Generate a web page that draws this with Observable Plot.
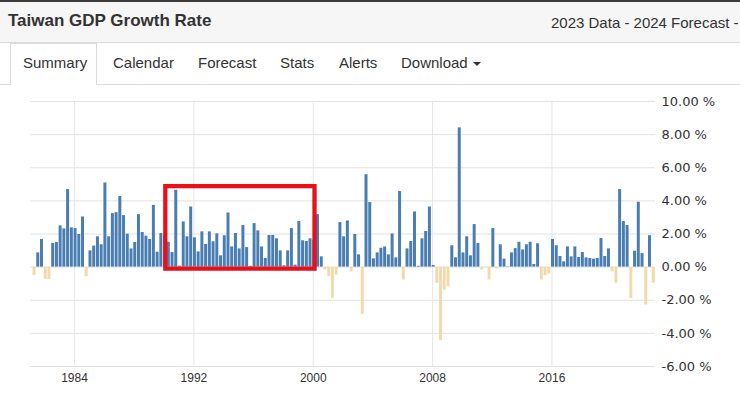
<!DOCTYPE html>
<html><head><meta charset="utf-8">
<script src="https://cdn.jsdelivr.net/npm/d3@7"></script>
<script src="https://cdn.jsdelivr.net/npm/@observablehq/plot@0.6"></script>
<style>
html,body{margin:0;padding:0}
body{width:740px;height:393px;overflow:hidden;background:#fff;font-family:"Liberation Sans",Arial,sans-serif;position:relative;color:#333}
#topline{position:absolute;left:0;top:0;width:740px;height:2px;background:#3a3a3a}
#header{position:absolute;left:0;top:2px;width:740px;height:40px;background:#f6f6f6;border-bottom:1px solid #dadada}
#title{position:absolute;left:8px;top:9px;font-weight:bold;font-size:17px;color:#333;white-space:nowrap}
#sub{position:absolute;left:551px;top:12px;font-size:15px;color:#333;white-space:nowrap}
#tabline{position:absolute;left:0;top:84px;width:740px;height:1px;background:#dcdcdc}
#active{position:absolute;left:10px;top:43px;width:87px;height:42px;border:1px solid #dcdcdc;border-bottom:none;background:#fff;box-sizing:border-box}
.tab{position:absolute;top:54px;font-size:15px;color:#333;white-space:nowrap}
.caret{display:inline-block;width:0;height:0;border-left:4px solid transparent;border-right:4px solid transparent;border-top:4px solid #333;vertical-align:middle;margin-left:5px}
#chart{position:absolute;left:0;top:86px}
</style>
</head><body>
<div id="topline"></div>
<div id="header"><div id="title"></div><div id="sub"></div></div>
<div id="tabline"></div>
<div id="active"></div>
<div id="tabs"></div>
<div id="chart"></div>
<script>
const titleText = "Taiwan GDP Growth Rate";
const subText = "2023 Data - 2024 Forecast -";
const tabLabels = ["Summary", "Calendar", "Forecast", "Stats", "Alerts", "Download"];
const tabLeft = [23, 113, 198, 280, 339, 401];

// quarterly GDP growth (%), first quarter = 1981 Q2
const startYear = 1981, startQuarter = 2;
const growth = [
 -0.5, 0.86, 1.67, -0.74, -0.74, 1.43, 1.49, 2.49, 2.31, 4.68,
 2.37, 2.33, 1.97, 3.03, -0.58, 0.98, 1.27, 1.83, 1.35, 5.08,
 1.83, 3.23, 3.29, 4.26, 3.11, 1.99, 1.1, 1.49, 3.17, 2.09,
 1.87, 1.67, 3.73, 0.9, 2.03, 1.9, 1.5, 0.88, 4.64, 0.06,
 2.73, 1.83, 3.63, 1.77, 0.92, 2.13, 1.37, 2.13, 1.53, 2.01,
 0.68, 1.89, 3.27, 1.22, 2.03, 1.1, 2.51, 1.18, 0.05, 2.63,
 2.19, 1.22, 0.52, 1.91, 1.91, 1.71, 0.98, 0.08, 0.98, 2.33,
 0.12, 2.75, 1.59, 1.55, 1.71, 1.6, 3.17, 0.62, -0.18, -0.58,
 -1.89, -0.48, 2.69, 1.83, 2.79, -0.28, 1.97, 0.74, -2.85, 5.58,
 3.9, 0.5, 0.86, 1.14, 1.22, 0.74, 2.0, 0.56, 4.56, -0.78,
 1.1, 1.55, 3.33, 0.05, 1.71, 2.15, 3.63, 0.1, -0.98, -4.45,
 -1.39, -1.18, 1.29, 0.56, 8.41, 0.86, 1.83, 0.68, 2.57, 1.43,
 -0.18, -0.05, -0.78, 2.33, -0.1, 1.35, 0.48, 0.02, 0.86, 1.12,
 1.5, 1.04, 1.35, 1.5, 0.16, 1.41, -0.78, -0.52, -0.42, 1.67,
 1.29, 0.64, 0.32, 1.22, 0.62, 1.22, 0.58, 0.88, 0.56, 0.52,
 0.48, 0.52, 1.73, 0.64, 1.1, -0.28, -0.98, 4.68, 2.75, 2.51,
 -1.89, 0.96, 3.92, 0.82, -2.29, 1.9, -0.98
];
const xTicks = [1984, 1992, 2000, 2008, 2016];
const yTicks = [-6, -4, -2, 0, 2, 4, 6, 8, 10];
// highlighted period (years 1990-2000, growth range)
const highlightYears = [1990.12, 2000.12];
const highlightRange = [-0.12, 4.86];

const blue = "#4a7eb3", tan = "#f1dbad", red = "#e8111b";

document.getElementById("title").textContent = titleText;
document.getElementById("sub").textContent = subText;
const tabs = document.getElementById("tabs");
tabLabels.forEach((t, i) => {
  const s = document.createElement("div");
  s.className = "tab";
  s.style.left = tabLeft[i] + "px";
  s.textContent = t;
  if (t === "Download") { const c = document.createElement("span"); c.className = "caret"; s.appendChild(c); }
  tabs.appendChild(s);
});

const data = growth.map((v, i) => ({t: startYear + (startQuarter - 1) / 4 + 0.07 + i / 4, v}));
const box = [{x1: highlightYears[0], x2: highlightYears[1], y1: highlightRange[0], y2: highlightRange[1]}];

const chart = Plot.plot({
  width: 740, height: 307,
  marginLeft: 30, marginRight: 85, marginTop: 15, marginBottom: 27,
  x: {domain: [1981.05, 2022.94]},
  y: {domain: [-6, 10]},
  style: {fontFamily: "'Liberation Sans', Arial, sans-serif", fontSize: "12px", color: "#333", background: "transparent"},
  marks: [
    Plot.gridX(xTicks, {stroke: "#e6e6e6", strokeOpacity: 1}),
    Plot.gridY(yTicks, {stroke: "#e3e3e3", strokeOpacity: 1}),
    Plot.rectY(data, {x1: d => d.t - 0.1, x2: d => d.t + 0.1, y1: 0, y2: "v", fill: d => d.v >= 0 ? blue : tan}),
    Plot.rect(box, {x1: "x1", x2: "x2", y1: "y1", y2: "y2", fill: "none", stroke: red, strokeWidth: 4.3}),
    Plot.axisY(yTicks, {anchor: "right", tickSize: 0, tickPadding: 6, tickFormat: d => d.toFixed(2) + " %", fontSize: 13, fontFamily: "'DejaVu Sans', sans-serif"}),
    Plot.axisX(xTicks, {tickSize: 0, tickPadding: 7, tickFormat: d => String(d), fontSize: 12})
  ]
});
document.getElementById("chart").appendChild(chart);
</script>
</body></html>
